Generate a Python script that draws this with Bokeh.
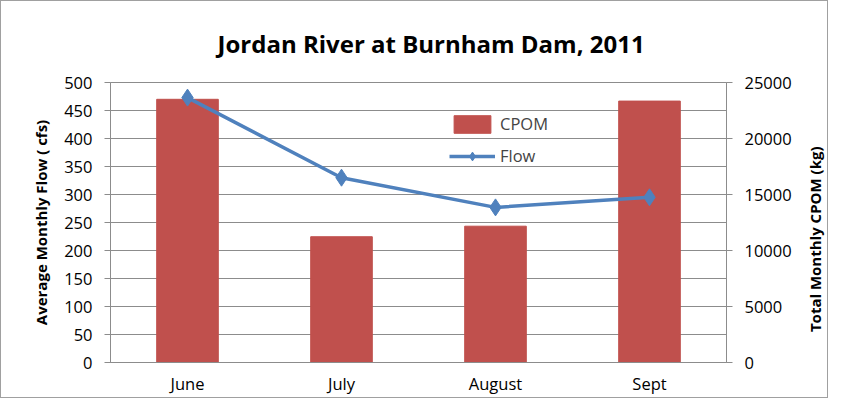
import math
from bokeh.plotting import figure
from bokeh.layouts import row
from bokeh.models import Range1d, LinearAxis, Legend, LegendItem, FixedTicker, Label
from bokeh.embed import file_html
from bokeh.resources import INLINE

months = ["June", "July", "August", "Sept"]
flow_cfs = [473, 330, 277, 295]
cpom_kg = [23500, 11230, 12170, 23340]
flow_ticks = list(range(0, 501, 50))
cpom_ticks = list(range(0, 25001, 5000))

FONT = "Open Sans"
GRID = "#8c8c8c"

p = figure(x_range=months, y_range=Range1d(0, 500), width=800, height=396,
           output_backend="svg", toolbar_location=None,
           min_border_left=109, min_border_right=75, min_border_top=78, min_border_bottom=32)
p.extra_y_ranges = {"cpom": Range1d(0, 25000)}

p.title.text = "Jordan River at Burnham Dam, 2011"
p.title.align = "left"
p.title.offset = 107
p.title.standoff = 46
p.title.text_font = FONT
p.title.text_font_size = "24px"
p.title.text_font_style = "bold"
p.title.text_color = "black"

bars = p.vbar(x=months, top=cpom_kg, width=0.4, y_range_name="cpom",
              fill_color="#C0504D", line_color="#C0504D")
line = p.line(months, flow_cfs, line_color="#4F81BD", line_width=3.5)
pts = p.scatter(months, flow_cfs, marker="diamond", size=17,
                fill_color="#4F81BD", line_color="#4F81BD")

p.xgrid.grid_line_color = None
p.ygrid.grid_line_color = GRID
p.ygrid.ticker = FixedTicker(ticks=flow_ticks)
p.outline_line_color = GRID

yl = p.yaxis[0]
yl.ticker = FixedTicker(ticks=flow_ticks)
yl.axis_label = "Average Monthly Flow ( cfs)"

yr = LinearAxis(y_range_name="cpom", ticker=FixedTicker(ticks=cpom_ticks))
p.add_layout(yr, "right")

for ax in [yl, yr, p.xaxis[0]]:
    ax.axis_line_color = GRID
    ax.major_tick_line_color = GRID
    ax.minor_tick_line_color = None
    ax.major_tick_out = 6
    ax.major_tick_in = 0
    ax.major_label_text_font = FONT
    ax.major_label_text_font_size = "16.5px"
    ax.major_label_text_color = "black"
    ax.axis_label_text_font = FONT
    ax.axis_label_text_font_size = "15px"
    ax.axis_label_text_font_style = "bold"
    ax.axis_label_text_color = "black"
yl.major_label_standoff = 12
yl.axis_label_standoff = 10
yr.major_label_standoff = 12
p.xaxis[0].major_tick_line_color = None
p.xaxis[0].major_label_standoff = 9
p.xaxis[0].major_tick_out = 0

legend = Legend(items=[LegendItem(label="CPOM", renderers=[bars]),
                       LegendItem(label="Flow", renderers=[line, pts])],
                location=(339, 195), background_fill_alpha=0, border_line_color=None,
                label_text_font=FONT, label_text_font_size="16.5px",
                glyph_width=46, glyph_height=22, spacing=9)
p.add_layout(legend)

# narrow companion figure carrying the right-hand axis title (reads bottom-to-top)
p_lbl = figure(width=26, height=396, output_backend="svg", toolbar_location=None,
               x_range=Range1d(0, 1), y_range=Range1d(0, 1),
               x_axis_location=None, y_axis_location=None, min_border=0)
p_lbl.grid.grid_line_color = None
p_lbl.outline_line_color = None
p_lbl.add_layout(Label(x=0.5, y=0.44, text="Total Monthly CPOM (kg)", angle=math.pi / 2,
                       text_align="center", text_baseline="middle",
                       text_font=FONT, text_font_size="15px", text_font_style="bold",
                       text_color="black"))

layout = row(p, p_lbl)
layout.styles = {"border": "1px solid #a0a0a0"}

open("out.html", "w").write(file_html(layout, INLINE))
